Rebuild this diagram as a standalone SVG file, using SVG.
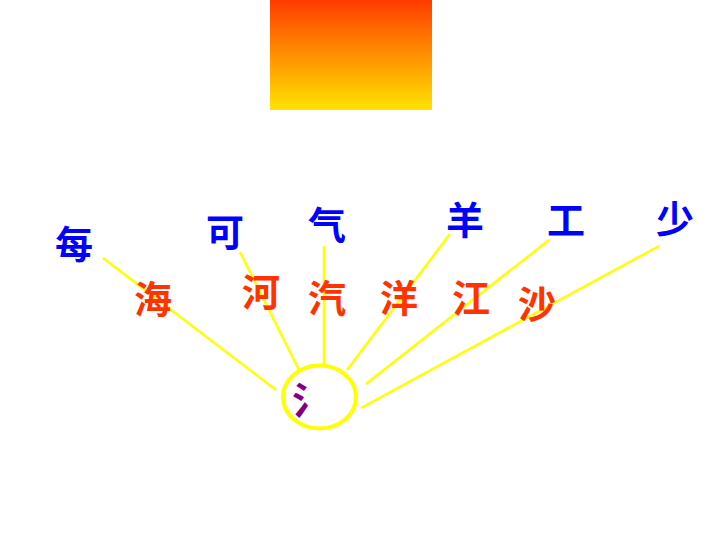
<svg xmlns="http://www.w3.org/2000/svg" width="720" height="540" viewBox="0 0 720 540">
<defs>
<linearGradient id="g" x1="0" y1="0" x2="0" y2="1">
<stop offset="0" stop-color="#FF3C00"/>
<stop offset="1" stop-color="#FFE400"/>
</linearGradient>
<style>
text{font-family:"Noto Sans CJK SC","Noto Sans CJK JP",sans-serif;font-weight:bold;font-size:38px;text-anchor:middle}
.b{fill:#0000FF}
.r{fill:#FF3300}
.p{fill:#800080}
.ln{stroke:#FFFF00;stroke-width:2.5;fill:none}
</style>
</defs>
<rect width="720" height="540" fill="#FFFFFF"/>
<rect x="270" y="0" width="162" height="110" fill="url(#g)"/>
<g id="connectors">
<line class="ln" x1="103" y1="258" x2="276" y2="390"/>
<line class="ln" x1="240" y1="252" x2="299" y2="370"/>
<line class="ln" x1="324" y1="246" x2="324" y2="365"/>
<line class="ln" x1="450" y1="234" x2="347" y2="370"/>
<line class="ln" x1="549" y1="240" x2="366" y2="384"/>
<line class="ln" x1="659" y1="246" x2="361" y2="408"/>
</g>
<g id="center">
<ellipse cx="319.5" cy="397" rx="36.5" ry="31.5" fill="none" stroke="#FFFF00" stroke-width="4"/>
<text class="p" x="311" y="414" font-size="40">氵</text>
</g>
<g id="n-mei"><text class="b" x="74" y="258">每</text></g>
<g id="n-ke"><text class="b" x="225" y="246">可</text></g>
<g id="n-qi"><text class="b" x="327" y="239">气</text></g>
<g id="n-yang"><text class="b" x="465" y="234">羊</text></g>
<g id="n-gong"><text class="b" x="566" y="234">工</text></g>
<g id="n-shao"><text class="b" x="675" y="233">少</text></g>
<g id="n-hai"><text class="r" x="153" y="313">海</text></g>
<g id="n-he"><text class="r" x="261" y="306">河</text></g>
<g id="n-qi2"><text class="r" x="327" y="312">汽</text></g>
<g id="n-yang2"><text class="r" x="399" y="312">洋</text></g>
<g id="n-jiang"><text class="r" x="471" y="312">江</text></g>
<g id="n-sha"><text class="r" x="537" y="318">沙</text></g>
</svg>
